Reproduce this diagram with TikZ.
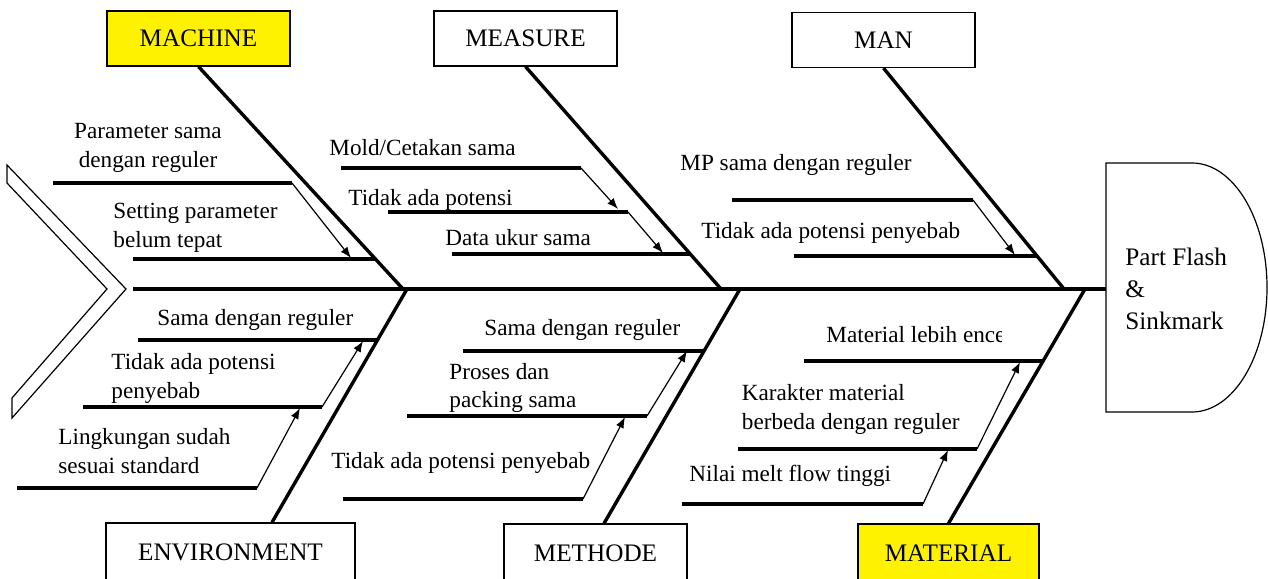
\documentclass[tikz,border=0pt]{standalone}
\usepackage{fontspec}
\setmainfont{Liberation Serif}
\usetikzlibrary{arrows.meta,calc}

\begin{document}
\begin{tikzpicture}[x=0.5pt,y=-0.5pt,
    bone/.style={line width=1.7pt},
    twig/.style={line width=1.6pt},
    feed/.style={line width=0.6pt,-{Latex[length=5.5pt,width=4.2pt]}},
    catbox/.style={draw,line width=0.6pt,minimum width=91.5pt,minimum height=27.5pt,inner sep=0pt,font=\fontsize{12.6pt}{15pt}\selectfont},
    cause/.style={inner sep=0pt,font=\fontsize{11.6pt}{14.25pt}\selectfont}]
    \useasboundingbox (0,0) rectangle (1268,578);
    \clip (0,0) rectangle (1268,578);

    % Tail
    \draw[line width=0.6pt] (7,165) -- (126,289) -- (12,418) -- (12,398) -- (107,289) -- (7,183) -- cycle;

    % Head
    \draw[line width=0.6pt] (1106,163) -- (1192,163)
        arc[start angle=90,end angle=-90,x radius=37.5pt,y radius=62.25pt] -- (1106,412) -- cycle;
    \node[cause,font=\fontsize{12.6pt}{16pt}\selectfont,align=left,anchor=base west] (effect) at (1125,329) {Part Flash\\\&\\Sinkmark};

    % Spine
    \coordinate (tail) at (133,289);
    \coordinate (headin) at (1106,289);
    \draw[bone] (tail) -- (headin);

    % Categories
    \node[catbox,fill=yellow] (machine) at (198.5,38.5) {MACHINE};
    \node[catbox] (measure) at (525.5,38.5) {MEASURE};
    \node[catbox] (man) at (883.5,40) {MAN};
    \node[catbox,minimum width=124.5pt,minimum height=29pt] (environment) at (230.5,552) {ENVIRONMENT};
    \node[catbox,minimum height=29pt] (methode) at (595.5,553) {METHODE};
    \node[catbox,fill=yellow,minimum width=90.5pt,minimum height=29pt] (material) at (948.5,553) {MATERIAL};

    % Bones
    \coordinate (sp1) at (403,289);
    \coordinate (sp2) at (721,289);
    \coordinate (sp3) at (1064,289);
    \coordinate (sp4) at (407,289);
    \coordinate (sp5) at (740,289);
    \coordinate (sp6) at (1085,289);
    \draw[bone] (machine.south) -- (sp1);
    \draw[bone] (measure.south) -- (sp2);
    \draw[bone] (man.south) -- (sp3);
    \draw[bone] ([xshift=20.75pt]environment.north) -- (sp4);
    \draw[bone] ([xshift=4.25pt]methode.north) -- (sp5);
    \draw[bone] (material.north) -- (sp6);

    % Sub causes
    \foreach \n/\xa/\xb/\y in {ma1/53/292/183, ma2/133/375/259,
        me1/341/581/168, me2/388/628/212, me3/452/690/254,
        mn1/732/973/200, mn2/794/1038/256,
        en1/138/378/340, en2/83/322/407, en3/17/257/488,
        mt1/463/705/351, mt2/407/647/416, mt3/343/583/499,
        mr1/804/1044/361, mr2/738/977/449, mr3/682/923/504} {
        \coordinate (\n-a) at (\xa,\y);
        \coordinate (\n-b) at (\xb,\y);
        \draw[twig] (\n-a) -- (\n-b);
    }

    % Arrows
    \coordinate (ma2t) at (351,258);
    \coordinate (me2t) at (618,209);
    \coordinate (me3t) at (663,253);
    \coordinate (mn2t) at (1015,255);
    \coordinate (en1t) at (363,341);
    \coordinate (en2t) at (300,408);
    \coordinate (mt1t) at (687,351);
    \coordinate (mt2t) at (625,417);
    \coordinate (mr1t) at (1020,362);
    \coordinate (mr2t) at (948,450);
    \draw[feed] (ma1-b) -- (ma2t);
    \draw[feed] (me1-b) -- (me2t);
    \draw[feed] (me2-b) -- (me3t);
    \draw[feed] (mn1-b) -- (mn2t);
    \draw[feed] (en2-b) -- (en1t);
    \draw[feed] (en3-b) -- (en2t);
    \draw[feed] (mt2-b) -- (mt1t);
    \draw[feed] (mt3-b) -- (mt2t);
    \draw[feed] (mr2-b) -- (mr1t);
    \draw[feed] (mr3-b) -- (mr2t);

    % Labels (multi-line ones sit on their last line)
    \node[cause,align=center,anchor=base] (ma1l) at (148,167) {Parameter sama\\dengan reguler};
    \node[cause,align=left,anchor=base west] (ma2l) at (113,247) {Setting parameter\\belum tepat};
    \node[cause,anchor=base west] (me1l) at (329,155) {Mold/Cetakan sama};
    \node[cause,anchor=base west] (me2l) at (348,205) {Tidak ada potensi};
    \node[cause,anchor=base west] (me3l) at (445,245.5) {Data ukur sama};
    \node[cause,anchor=base west] (mn1l) at (680,170) {MP sama dengan reguler};
    \node[cause,anchor=base west] (mn2l) at (701,238) {Tidak ada potensi penyebab};
    \node[cause,anchor=base west] (en1l) at (157,325.5) {Sama dengan reguler};
    \node[cause,align=left,anchor=base west] (en2l) at (111,398) {Tidak ada potensi\\penyebab};
    \node[cause,align=left,anchor=base west] (en3l) at (58,473) {Lingkungan sudah\\sesuai standard};
    \node[cause,anchor=base west] (mt1l) at (484,335) {Sama dengan reguler};
    \node[cause,align=left,anchor=base west] (mt2l) at (449,407.5) {Proses dan\\packing sama};
    \node[cause,anchor=base west] (mt3l) at (331,468) {Tidak ada potensi penyebab};
    \begin{scope}
        \clip (800,310) rectangle (1001,352);
        \node[cause,anchor=base west] (mr1l) at (826,342.5) {Material lebih ence};
    \end{scope}
    \node[cause,align=left,anchor=base west] (mr2l) at (741.5,429) {Karakter material\\berbeda dengan reguler};
    \node[cause,anchor=base west] (mr3l) at (689,481.5) {Nilai melt flow tinggi};
\end{tikzpicture}
\end{document}
